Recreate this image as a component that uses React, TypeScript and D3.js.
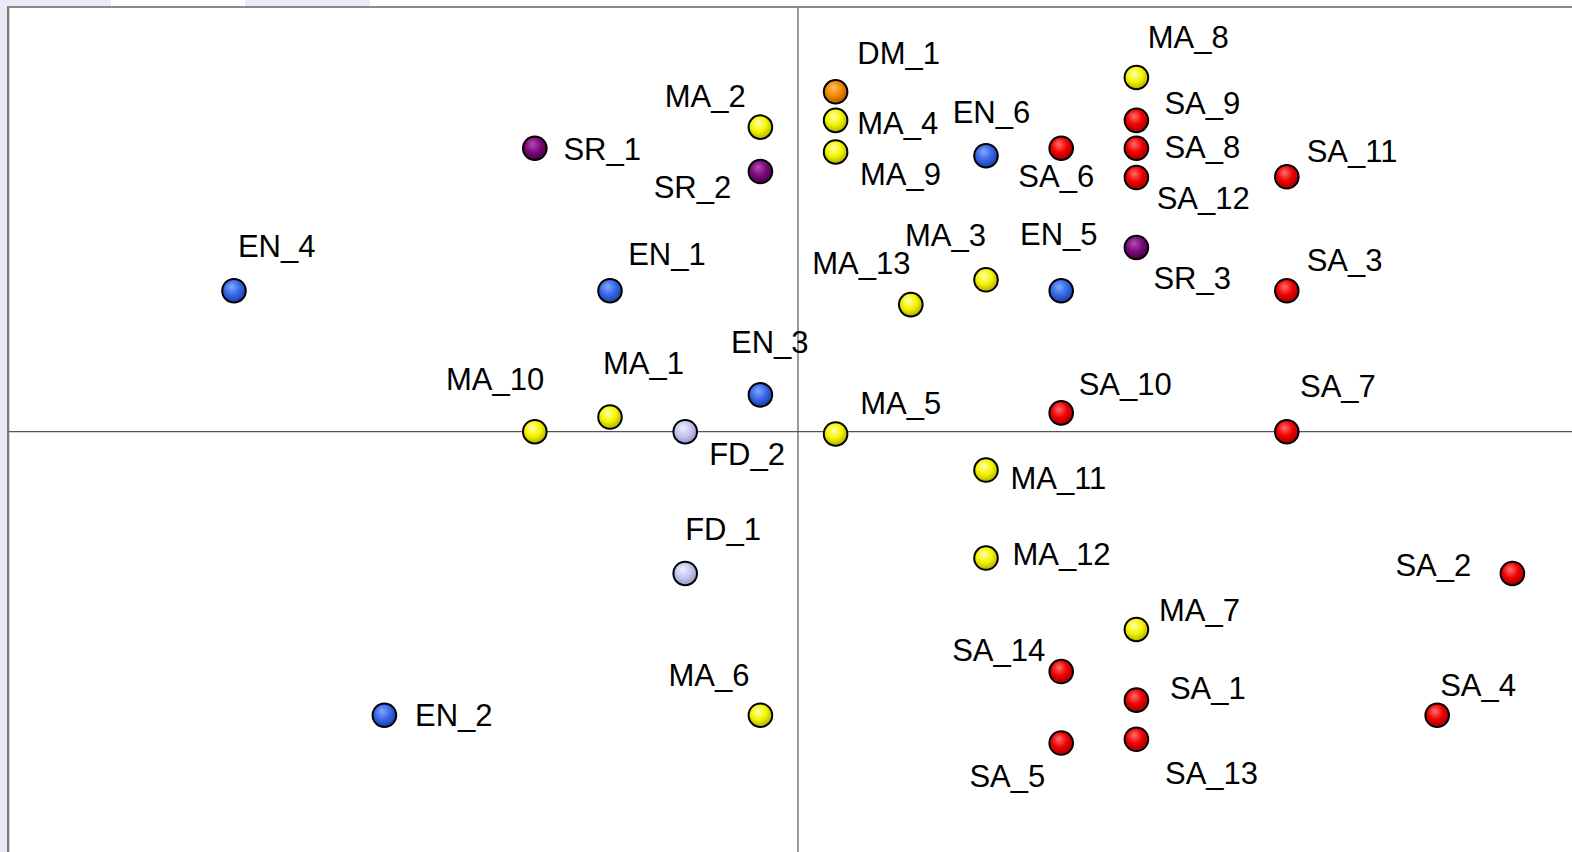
import React from "react";
import * as d3 from "d3";

// Sample labels, group, and coordinates (component units)
const labels = [
  "SR_1", "MA_2", "SR_2", "EN_4", "EN_1", "EN_3", "MA_10", "MA_1", "FD_2", "FD_1",
  "MA_6", "EN_2", "DM_1", "MA_4", "MA_9", "MA_5", "MA_13", "MA_3", "EN_6", "MA_11",
  "MA_12", "SA_6", "EN_5", "SA_10", "SA_14", "SA_5", "MA_8", "SA_9", "SA_8", "SA_12",
  "SR_3", "MA_7", "SA_1", "SA_13", "SA_11", "SA_3", "SA_7", "SA_2", "SA_4",
];
const groups = [
  "SR", "MA", "SR", "EN", "EN", "EN", "MA", "MA", "FD", "FD",
  "MA", "EN", "DM", "MA", "MA", "MA", "MA", "MA", "EN", "MA",
  "MA", "SA", "EN", "SA", "SA", "SA", "MA", "SA", "SA", "SA",
  "SR", "MA", "SA", "SA", "SA", "SA", "SA", "SA", "SA",
];
const xValues = [
  -3.5, -0.5, -0.5, -7.5, -2.5, -0.5, -3.5, -2.5, -1.5, -1.5,
  -0.5, -5.5, 0.5, 0.5, 0.5, 0.5, 1.5, 2.5, 2.5, 2.5,
  2.5, 3.5, 3.5, 3.5, 3.5, 3.5, 4.5, 4.5, 4.5, 4.5,
  4.5, 4.5, 4.5, 4.5, 6.5, 6.5, 6.5, 9.5, 8.5,
];
const yValues = [
  3.77, 4.05, 3.46, 1.875, 1.875, 0.49, 0, 0.195, 0, -1.885,
  -3.77, -3.77, 4.52, 4.14, 3.72, -0.03, 1.69, 2.02, 3.67, -0.51,
  -1.68, 3.77, 1.875, 0.25, -3.19, -4.14, 4.71, 4.14, 3.77, 3.38,
  2.45, -2.63, -3.57, -4.09, 3.39, 1.875, 0, -1.885, -3.77,
];
// label placement relative to each point (text start, baseline)
const labelOffsets: [number, number][] = [
  [28.6, 12], [-95.7, -20], [-106.7, 27], [3.9, -33.4], [18.2, -25.7], [-29.4, -42], [-88.8, -41.7], [-7, -43], [24, 33.3], [0, -33.3],
  [-92, -29.3], [30.6, 11], [21.7, -27.4], [21.7, 13.3], [24.4, 33.3], [24.6, -20], [-98.5, -31], [-81, -33.3], [-33.3, -33], [24.4, 19.3],
  [26.4, 6.6], [-42.9, 38.4], [-41.2, -46], [17.5, -18], [-109, -11], [-91.8, 43.7], [11.3, -29.4], [28, -6], [28, 10], [20.3, 31],
  [17, 41.6], [22.6, -8], [33.5, -0.7], [28.6, 44.3], [19.9, -15], [19.9, -19.3], [13.2, -34.4], [-117, 3], [3, -19],
];

const groupNames = ["SA", "MA", "EN", "SR", "DM", "FD"];
const groupColors: Record<string, [string, string, string]> = {
  SA: ["#ff7070", "#f00000", "#a00000"],
  MA: ["#ffffb0", "#f4f400", "#b0b000"],
  EN: ["#80a8ff", "#3868e8", "#1a3ca8"],
  SR: ["#b050b0", "#7a0a7a", "#440044"],
  DM: ["#ffc060", "#f08800", "#a85800"],
  FD: ["#f0f0ff", "#c4c6ee", "#9496c8"],
};

const W = 1572;
const H = 852;

export default function App() {
  const x = d3.scaleLinear().domain([-10.5, 10.3]).range([8.4, 8.4 + 20.8 * 75.2]);
  const y = d3.scaleLinear().domain([5.65, -5.6]).range([6.8, 6.8 + 11.25 * 75.2]);
  const x0 = x(0);
  const y0 = y(0);
  const r = 11.8;

  return (
    <div style={{ position: "absolute", left: 0, top: 0, width: W, height: H, overflow: "hidden" }}>
      <svg width={W} height={H} style={{ display: "block" }}>
        <defs>
          {groupNames.map((g) => (
            <radialGradient key={g} id={`grad-${g}`} cx="45%" cy="40%" r="60%" fx="40%" fy="32%">
              <stop offset="0%" stopColor={groupColors[g][0]} />
              <stop offset="55%" stopColor={groupColors[g][1]} />
              <stop offset="100%" stopColor={groupColors[g][2]} />
            </radialGradient>
          ))}
        </defs>
        <rect x={0} y={0} width={W} height={H} fill="#ffffff" />
        {/* left strip and top tabs */}
        <rect x={0} y={0} width={7} height={H} fill="#e8ebf5" />
        <rect x={0} y={0} width={111} height={6} fill="#e8ebf5" />
        <rect x={245} y={0} width={125} height={6} fill="#e8ebf5" />
        {/* frame */}
        <line x1={8} y1={7} x2={W} y2={7} stroke="#8a8a8a" strokeWidth={2} />
        <line x1={8} y1={6} x2={8} y2={H} stroke="#7a7a7a" strokeWidth={2} />
        <line x1={9.5} y1={8} x2={9.5} y2={H} stroke="#d8d8d8" strokeWidth={1} />
        {/* axes */}
        <line x1={x0} y1={8} x2={x0} y2={H} stroke="#555" strokeWidth={1.2} />
        <line x1={9} y1={y0} x2={W} y2={y0} stroke="#555" strokeWidth={1.2} />
        {/* points */}
        {labels.map((lab, i) => (
          <circle
            key={lab}
            cx={x(xValues[i])}
            cy={y(yValues[i])}
            r={r}
            fill={`url(#grad-${groups[i]})`}
            stroke="#000"
            strokeWidth={2}
          />
        ))}
        {/* labels */}
        {labels.map((lab, i) => (
          <text
            key={lab + "-t"}
            x={x(xValues[i]) + labelOffsets[i][0]}
            y={y(yValues[i]) + labelOffsets[i][1]}
            fontFamily="'Liberation Sans', Arial, sans-serif"
            fontSize={31}
            fill="#000"
          >
            {lab}
          </text>
        ))}
      </svg>
    </div>
  );
}
